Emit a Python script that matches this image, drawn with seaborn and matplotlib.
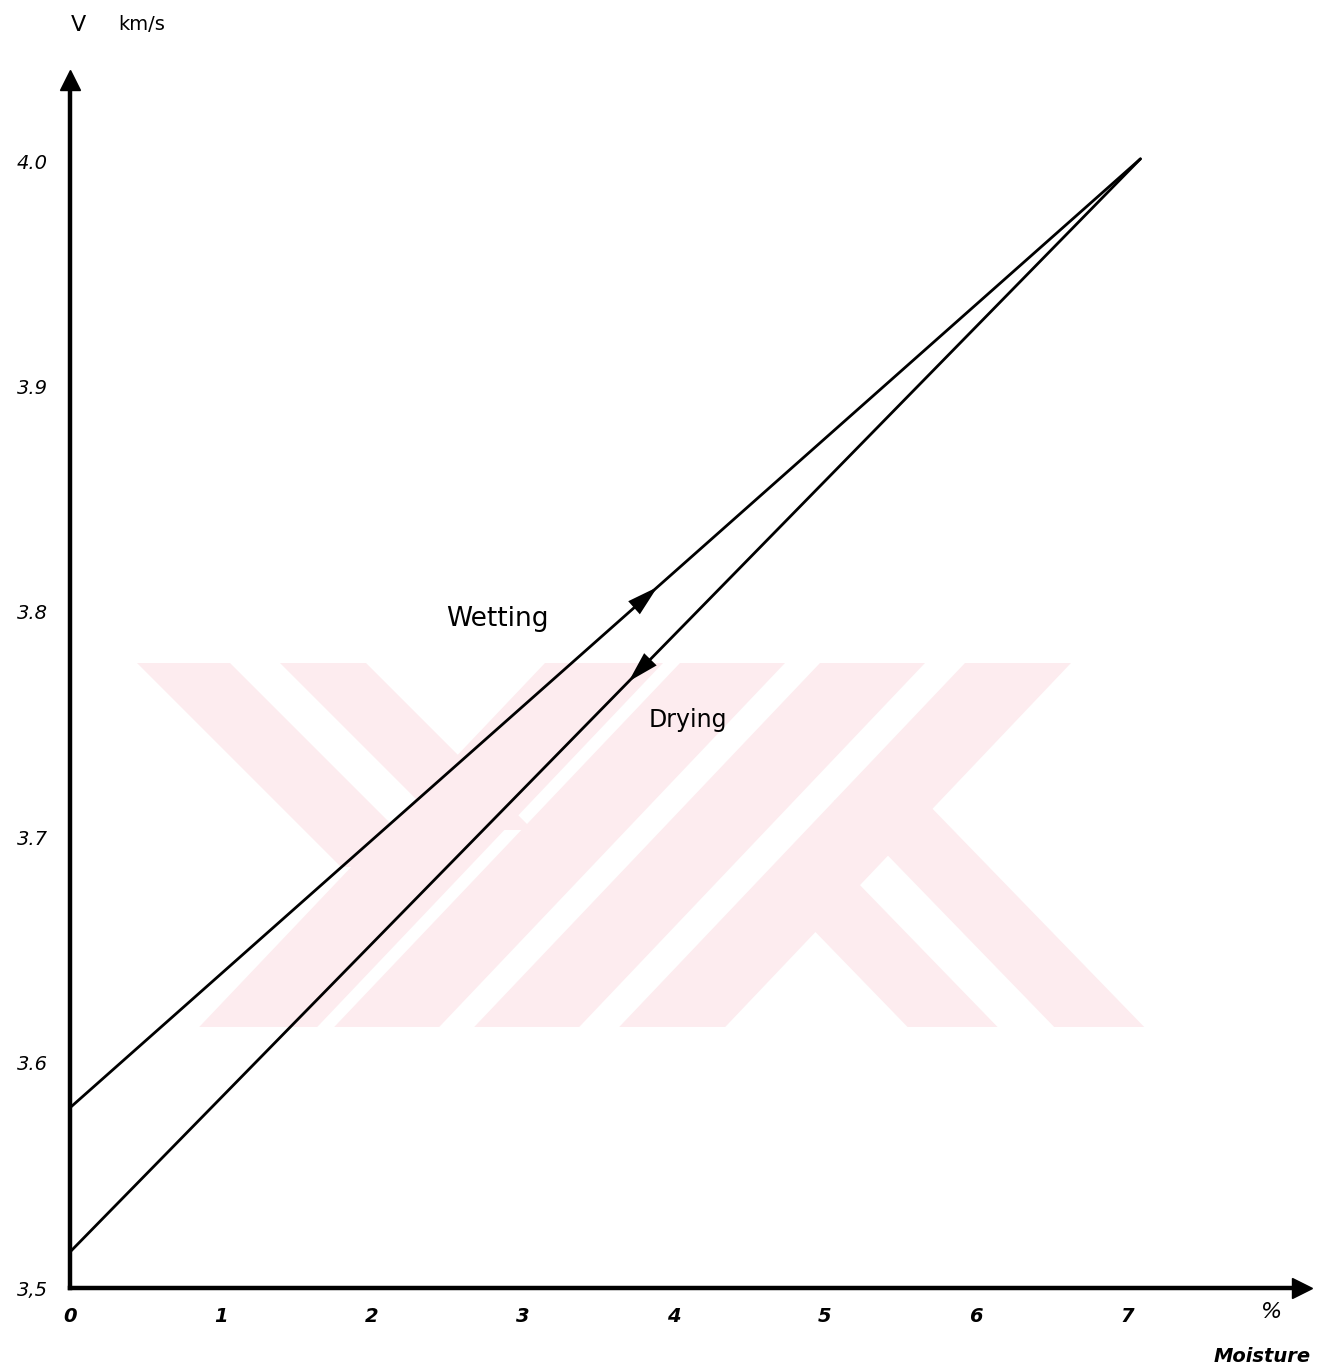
import numpy as np
import pandas as pd
import matplotlib
matplotlib.use("Agg")
import matplotlib.pyplot as plt
from matplotlib.patches import Polygon
import seaborn as sns

# data
moisture = [0.0, 7.09]
v_wetting = [3.580, 4.001]
v_drying = [3.516, 4.001]
x_ticks = [0, 1, 2, 3, 4, 5, 6, 7]
y_ticks = [3.5, 3.6, 3.7, 3.8, 3.9, 4.0]
y_tick_labels = ["3,5", "3.6", "3.7", "3.8", "3.9", "4.0"]
arrow_x = {"Wetting": 3.89, "Drying": 3.70}

sns.set_style("white")
plt.rcParams['font.family'] = ['DejaVu Sans']
plt.rcParams.update({"text.color": "black", "xtick.color": "black",
                     "ytick.color": "black", "axes.edgecolor": "black"})

df = pd.DataFrame({
    "moisture": moisture * 2,
    "v": v_wetting + v_drying,
    "process": ["Wetting"] * 2 + ["Drying"] * 2,
})

W, H = 1331, 1372
fig = plt.figure(figsize=(W / 100, H / 100), dpi=100)

# faint pink watermark behind the chart (pixel outlines, background only)
def band(x_top, y_top, y_bot, width, slope):
    dx = slope * (y_bot - y_top)
    pts = [(x_top, y_top), (x_top + width, y_top),
           (x_top + width + dx, y_bot), (x_top + dx, y_bot)]
    return [(px / W, 1 - py / H) for px, py in pts]

wm = "#fdecef"
y0, y1 = 663, 1027
shapes = [
    band(545, y0, y1, 118, -0.95), band(680, y0, y1, 105, -0.95),
    band(820, y0, y1, 105, -0.95), band(965, y0, y1, 106, -0.95),
    band(137, y0, 867, 93, 1.0), band(280, y0, 830, 86, 1.0),
    band(765, 880, y1, 90, 0.97), band(834, 800, y1, 90, 0.97),
]
for pts in shapes:
    fig.patches.append(Polygon(pts, closed=True, facecolor=wm, edgecolor="none",
                               transform=fig.transFigure, zorder=-1))

ax = fig.add_axes([0.0526, 0.0612, 0.9256, 0.8805])
ax.set_facecolor("none")

sns.lineplot(data=df, x="moisture", y="v", hue="process", palette=["black", "black"],
             linewidth=2.0, legend=False, ax=ax)

# direction arrows on the lines
for proc, ys, d in [("Wetting", v_wetting, 1), ("Drying", v_drying, -1)]:
    xa = arrow_x[proc]
    ya = np.interp(xa, moisture, ys)
    xb = xa - d * 0.3
    yb = np.interp(xb, moisture, ys)
    ax.annotate("", xy=(xa, ya), xytext=(xb, yb),
                arrowprops=dict(arrowstyle="-|>,head_length=1.6,head_width=0.45",
                                mutation_scale=14, color="black", lw=0,
                                shrinkA=0, shrinkB=0))

ax.set_xlim(0, 8.16)
ax.set_ylim(3.5, 4.036)
ax.set_xticks(x_ticks)
ax.set_xticks(np.arange(0.5, 7.5, 1.0), minor=True)
ax.set_xticklabels([str(t) for t in x_ticks], fontstyle="italic", fontsize=14, fontweight="bold")
ax.set_yticks(y_ticks)
ax.set_yticklabels(y_tick_labels, fontstyle="italic", fontsize=14)
ax.tick_params(axis="x", which="both", direction="in", length=4, width=2, pad=14)
ax.tick_params(axis="y", direction="in", length=5, width=1.5, pad=16)
ax.set_xlabel("")
ax.set_ylabel("")

sns.despine(ax=ax)
for s in ["left", "bottom"]:
    ax.spines[s].set_linewidth(3.2)
ax.plot(1, 0, ">", color="black", markersize=14, transform=ax.transAxes, clip_on=False)
ax.plot(0, 1, "^", color="black", markersize=14, transform=ax.transAxes, clip_on=False)

ax.text(2.83, 3.797, "Wetting", fontsize=19, ha="center", va="center")
ax.text(4.09, 3.752, "Drying", fontsize=17, ha="center", va="center")

fig.text(78 / W, 1 - 25 / H, "V", fontsize=16, ha="center", va="center")
fig.text(142 / W, 1 - 25 / H, "km/s", fontsize=14, ha="center", va="center")
fig.text(1272 / W, 1 - 1312 / H, "%", fontsize=16, ha="center", va="center", fontstyle="italic")
fig.text(1262 / W, 1 - 1357 / H, "Moisture", fontsize=14, ha="center", va="center",
         fontstyle="italic", fontweight="bold")

fig.savefig("out.png", dpi=100)
